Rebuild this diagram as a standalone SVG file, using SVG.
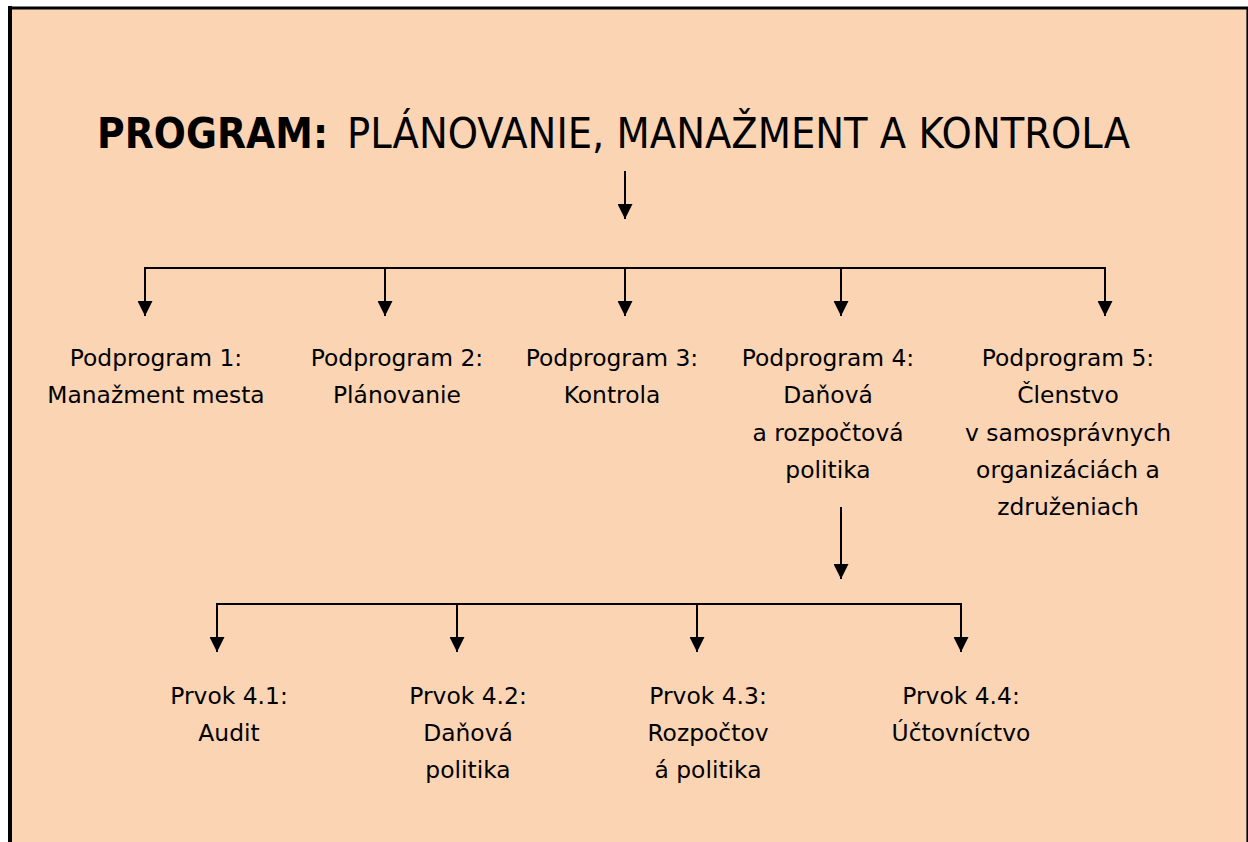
<svg xmlns="http://www.w3.org/2000/svg" width="1248" height="842" viewBox="0 0 1248 842">
  <style>
    .t { font-family: "DejaVu Sans", "Liberation Sans", sans-serif; font-size: 23.4px; fill: #000; text-anchor: middle; }
    .ttl { font-family: "DejaVu Sans", "Liberation Sans", sans-serif; font-size: 42.5px; fill: #000; }
    .c { stroke: #000; stroke-width: 2; fill: none; }
  </style>
  <defs>
    <marker id="ah" markerUnits="userSpaceOnUse" markerWidth="15" markerHeight="15" refX="15" refY="7.5" orient="auto">
      <path d="M0,0 L15,7.5 L0,15 Z" fill="#000"/>
    </marker>
  </defs>

  <rect x="0" y="0" width="1248" height="842" fill="#ffffff"/>
  <rect x="10" y="8" width="1238" height="834" fill="#FBD4B4"/>
  <line x1="10" y1="6" x2="10" y2="842" stroke="#000" stroke-width="4"/>
  <line x1="8" y1="8" x2="1248" y2="8" stroke="#000" stroke-width="3"/>
  <line x1="1247.2" y1="7" x2="1247.2" y2="842" stroke="#000" stroke-width="1.6"/>

  <g id="title">
    <text class="ttl" x="97" y="148" font-weight="bold" textLength="231" lengthAdjust="spacingAndGlyphs">PROGRAM:</text>
    <text class="ttl" x="347" y="148" textLength="783" lengthAdjust="spacingAndGlyphs">PLÁNOVANIE, MANAŽMENT A KONTROLA</text>
  </g>

  <g id="connectors">
    <line class="c" x1="625" y1="171" x2="625" y2="219" marker-end="url(#ah)"/>
    <line class="c" x1="145" y1="268" x2="1105" y2="268"/>
    <line class="c" x1="145" y1="267" x2="145" y2="316" marker-end="url(#ah)"/>
    <line class="c" x1="385" y1="267" x2="385" y2="316" marker-end="url(#ah)"/>
    <line class="c" x1="625" y1="267" x2="625" y2="316" marker-end="url(#ah)"/>
    <line class="c" x1="841" y1="267" x2="841" y2="316" marker-end="url(#ah)"/>
    <line class="c" x1="1105" y1="267" x2="1105" y2="316" marker-end="url(#ah)"/>
    <line class="c" x1="841" y1="507" x2="841" y2="579" marker-end="url(#ah)"/>
    <line class="c" x1="217" y1="604" x2="961" y2="604"/>
    <line class="c" x1="217" y1="603" x2="217" y2="652" marker-end="url(#ah)"/>
    <line class="c" x1="457" y1="603" x2="457" y2="652" marker-end="url(#ah)"/>
    <line class="c" x1="697" y1="603" x2="697" y2="652" marker-end="url(#ah)"/>
    <line class="c" x1="961" y1="603" x2="961" y2="652" marker-end="url(#ah)"/>
  </g>

  <g id="podprogram1">
    <text class="t" x="156" y="366">Podprogram 1:</text>
    <text class="t" x="156" y="403.3">Manažment mesta</text>
  </g>
  <g id="podprogram2">
    <text class="t" x="397" y="366">Podprogram 2:</text>
    <text class="t" x="397" y="403.3">Plánovanie</text>
  </g>
  <g id="podprogram3">
    <text class="t" x="612" y="366">Podprogram 3:</text>
    <text class="t" x="612" y="403.3">Kontrola</text>
  </g>
  <g id="podprogram4">
    <text class="t" x="828" y="366">Podprogram 4:</text>
    <text class="t" x="828" y="403.3">Daňová</text>
    <text class="t" x="828" y="440.6">a rozpočtová</text>
    <text class="t" x="828" y="477.9">politika</text>
  </g>
  <g id="podprogram5">
    <text class="t" x="1068" y="366">Podprogram 5:</text>
    <text class="t" x="1068" y="403.3">Členstvo</text>
    <text class="t" x="1068" y="440.6">v samosprávnych</text>
    <text class="t" x="1068" y="477.9">organizáciách a</text>
    <text class="t" x="1068" y="515.2">združeniach</text>
  </g>

  <g id="prvok41">
    <text class="t" x="229" y="703.5">Prvok 4.1:</text>
    <text class="t" x="229" y="740.5">Audit</text>
  </g>
  <g id="prvok42">
    <text class="t" x="468" y="703.5">Prvok 4.2:</text>
    <text class="t" x="468" y="740.5">Daňová</text>
    <text class="t" x="468" y="777.5">politika</text>
  </g>
  <g id="prvok43">
    <text class="t" x="708" y="703.5">Prvok 4.3:</text>
    <text class="t" x="708" y="740.5">Rozpočtov</text>
    <text class="t" x="708" y="777.5">á politika</text>
  </g>
  <g id="prvok44">
    <text class="t" x="961" y="703.5">Prvok 4.4:</text>
    <text class="t" x="961" y="740.5">Účtovníctvo</text>
  </g>
</svg>
